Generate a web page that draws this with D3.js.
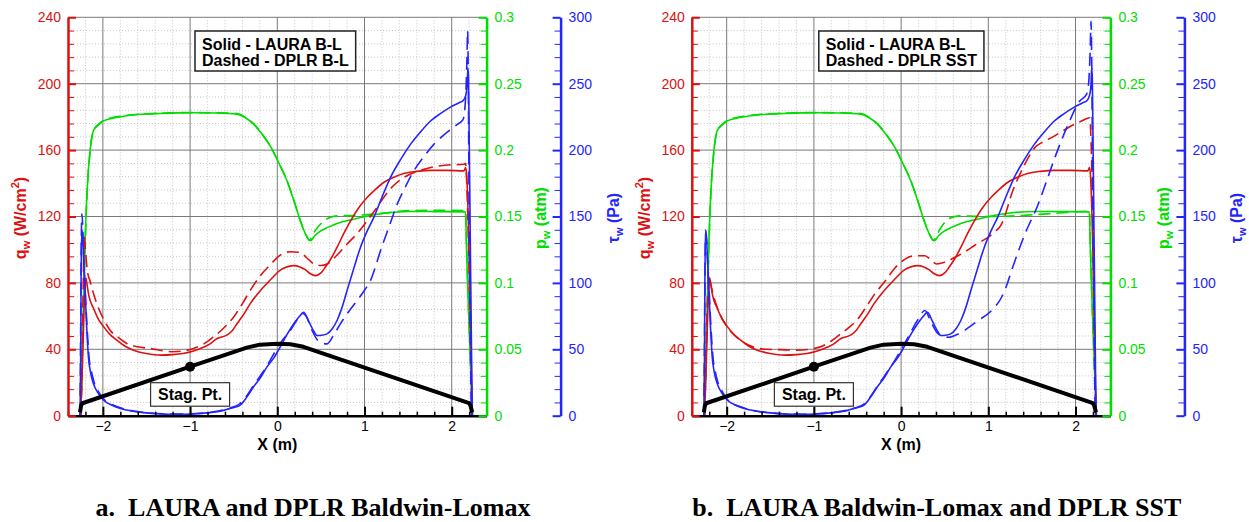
<!DOCTYPE html>
<html>
<head>
<meta charset="utf-8">
<script src="https://cdn.jsdelivr.net/npm/d3@7"></script>
<style>
  body { margin: 0; background: #fff; }
  svg { display: block; font-family: "Liberation Sans", Arial, sans-serif; }
</style>
</head>
<body>
<svg id="chart" width="1249" height="522"></svg>
<script>
// axis ticks
const X_TICKS = [-2, -1, 0, 1, 2]
const Q_TICKS = [0, 40, 80, 120, 160, 200, 240]
const P_TICKS = [0, 0.05, 0.1, 0.15, 0.2, 0.25, 0.3]
const TAU_TICKS = [0, 50, 100, 150, 200, 250, 300]

// heating q_w (W/cm2), [x, q]
const LAURA_Q = [[-2.255, 2], [-2.235, 30], [-2.215, 65], [-2.195, 83], [-2.185, 80], [-2.16, 72], [-2.11, 65], [-2.05, 58], [-1.99, 53.5], [-1.92, 49], [-1.84, 45.5], [-1.75, 42], [-1.65, 39.5], [-1.5, 37.5], [-1.34, 36.5], [-1.2, 36.8], [-1.08, 37.5], [-0.96, 39], [-0.88, 40.5], [-0.78, 43], [-0.69, 46.5], [-0.58, 48.5], [-0.52, 51], [-0.46, 55.5], [-0.38, 61.5], [-0.31, 67.5], [-0.2, 75], [-0.12, 79.6], [-0.04, 84], [0.03, 87.5], [0.12, 89.8], [0.19, 90.4], [0.26, 89.6], [0.32, 88], [0.38, 85.5], [0.44, 84.4], [0.5, 86], [0.55, 89.4], [0.62, 95], [0.685, 101.4], [0.76, 109.5], [0.84, 117.4], [0.93, 125], [1.03, 131.4], [1.12, 136], [1.22, 140.5], [1.33, 143.5], [1.45, 145.9], [1.6, 147.2], [1.76, 147.8], [1.95, 147.8], [2.14, 147.5], [2.16, 149.5], [2.17, 146], [2.235, 0]]
const DPLR_BL_Q = [[-2.25, 0], [-2.24, 30], [-2.225, 80], [-2.215, 108], [-2.2, 100], [-2.18, 88], [-2.147, 81], [-2.07, 67.5], [-1.99, 58], [-1.917, 51.5], [-1.82, 47], [-1.726, 43.5], [-1.6, 41.5], [-1.458, 40.5], [-1.3, 39], [-1.19, 38.5], [-1.08, 39], [-0.96, 40.5], [-0.85, 43], [-0.73, 47.5], [-0.62, 52.5], [-0.5, 59.5], [-0.4, 67.5], [-0.31, 75.5], [-0.2, 84], [-0.08, 91], [0.03, 96.6], [0.15, 98.8], [0.26, 98.4], [0.34, 95], [0.42, 91.4], [0.5, 90.5], [0.57, 91.4], [0.68, 96.5], [0.8, 103.4], [0.92, 110], [1.03, 117.4], [1.13, 124.5], [1.22, 131.4], [1.33, 138.5], [1.45, 143.5], [1.6, 147], [1.76, 149.5], [1.95, 151], [2.14, 151.5], [2.16, 152], [2.172, 140], [2.23, 0]]
const DPLR_SST_Q = [[-2.25, 0], [-2.235, 40], [-2.215, 75], [-2.2, 84], [-2.185, 80], [-2.15, 72], [-2.1, 64], [-2.0, 54], [-1.9, 48], [-1.8, 44], [-1.7, 41.5], [-1.55, 40], [-1.4, 39.8], [-1.2, 39.5], [-1.0, 40.5], [-0.9, 42], [-0.8, 45], [-0.7, 49], [-0.6, 53], [-0.5, 58], [-0.4, 65.5], [-0.3, 73.5], [-0.2, 80], [-0.07, 89], [0.05, 94.5], [0.158, 96.4], [0.273, 96.4], [0.34, 94], [0.407, 91.4], [0.5, 92.5], [0.617, 95.4], [0.71, 98], [0.808, 101.4], [0.9, 104.5], [0.998, 107.4], [1.08, 111], [1.152, 115.4], [1.2, 122], [1.266, 133.4], [1.34, 143], [1.419, 151.5], [1.534, 161.5], [1.63, 165], [1.725, 167.5], [1.82, 170.5], [1.915, 173.5], [2.069, 177.5], [2.164, 179.5], [2.175, 170], [2.23, 0]]

// pressure p_w (atm), [x, p]
const LAURA_P = [[-2.255, 0], [-2.24, 0.03], [-2.225, 0.08], [-2.204, 0.132], [-2.18, 0.17], [-2.147, 0.1996], [-2.109, 0.2146], [-2.05, 0.219], [-1.994, 0.222], [-1.85, 0.2245], [-1.726, 0.2259], [-1.55, 0.227], [-1.343, 0.2276], [-1.15, 0.228], [-0.961, 0.2281], [-0.7, 0.2279], [-0.463, 0.2271], [-0.37, 0.2245], [-0.272, 0.2196], [-0.17, 0.2115], [-0.08, 0.203], [0.034, 0.188], [0.111, 0.1768], [0.19, 0.162], [0.264, 0.1468], [0.33, 0.136], [0.379, 0.1317], [0.43, 0.1355], [0.494, 0.139], [0.585, 0.142], [0.685, 0.1447], [0.876, 0.148], [1.145, 0.1517], [1.527, 0.1538], [1.8, 0.1537], [2.158, 0.1535], [2.168, 0.13], [2.24, 0]]
const DPLR_BL_P = [[-2.255, 0], [-2.24, 0.035], [-2.222, 0.085], [-2.2, 0.135], [-2.178, 0.172], [-2.145, 0.2], [-2.105, 0.2152], [-2.05, 0.2195], [-1.99, 0.2225], [-1.85, 0.225], [-1.72, 0.2263], [-1.55, 0.2272], [-1.34, 0.2278], [-1.15, 0.2282], [-0.96, 0.2282], [-0.7, 0.2281], [-0.46, 0.2276], [-0.37, 0.2248], [-0.27, 0.2198], [-0.17, 0.2117], [-0.08, 0.203], [0.034, 0.1882], [0.111, 0.177], [0.19, 0.1622], [0.264, 0.147], [0.33, 0.136], [0.37, 0.132], [0.42, 0.138], [0.5, 0.1445], [0.6, 0.1492], [0.7, 0.1505], [0.876, 0.1508], [1.145, 0.152], [1.527, 0.1545], [1.8, 0.1547], [2.16, 0.1545], [2.17, 0.13], [2.24, 0]]
const DPLR_SST_P = [[-2.255, 0], [-2.24, 0.035], [-2.222, 0.085], [-2.2, 0.135], [-2.178, 0.172], [-2.145, 0.2], [-2.105, 0.2152], [-2.05, 0.2195], [-1.99, 0.2225], [-1.85, 0.225], [-1.72, 0.2263], [-1.55, 0.2272], [-1.34, 0.2278], [-1.15, 0.2282], [-0.96, 0.2282], [-0.7, 0.2281], [-0.46, 0.2276], [-0.37, 0.2248], [-0.27, 0.2198], [-0.17, 0.2117], [-0.08, 0.203], [0.034, 0.1882], [0.111, 0.177], [0.19, 0.1622], [0.264, 0.147], [0.33, 0.136], [0.37, 0.132], [0.45, 0.141], [0.55, 0.1485], [0.67, 0.1505], [0.9, 0.15], [1.2, 0.1502], [1.55, 0.1515], [1.9, 0.153], [2.16, 0.154], [2.17, 0.13], [2.24, 0]]

// shear tau_w (Pa), [x, tau]
const LAURA_TAU = [[-2.262, 0], [-2.255, 40], [-2.25, 100], [-2.243, 140], [-2.232, 135], [-2.22, 118], [-2.204, 94.4], [-2.185, 66], [-2.166, 44.3], [-2.14, 32], [-2.109, 24.3], [-2.05, 16.5], [-1.994, 11.8], [-1.9, 8], [-1.8, 5.5], [-1.65, 3.4], [-1.535, 2.3], [-1.35, 1.4], [-1.152, 1.0], [-0.95, 1.4], [-0.769, 2.3], [-0.64, 3.6], [-0.54, 5.5], [-0.48, 6.5], [-0.425, 8], [-0.35, 14], [-0.272, 21.8], [-0.19, 29], [-0.118, 36.8], [-0.04, 43.5], [0.034, 51.8], [0.11, 61], [0.187, 69.1], [0.25, 74.5], [0.302, 77.9], [0.36, 71], [0.42, 63.5], [0.456, 60.4], [0.51, 60.6], [0.57, 61.6], [0.63, 65.5], [0.685, 71.7], [0.74, 81], [0.8, 94.2], [0.875, 110.5], [0.953, 126.7], [1.03, 139], [1.106, 149.2], [1.2, 164.5], [1.297, 179.3], [1.41, 192.5], [1.527, 204.3], [1.64, 213.5], [1.757, 221.9], [1.87, 227.5], [1.986, 232.4], [2.08, 235.5], [2.132, 237.4], [2.16, 241], [2.178, 249.4], [2.185, 261.9], [2.192, 255], [2.198, 224], [2.215, 120], [2.235, 0]]
const DPLR_BL_TAU = [[-2.262, 0], [-2.255, 60], [-2.248, 130], [-2.24, 152], [-2.23, 140], [-2.218, 115], [-2.2, 90], [-2.18, 65], [-2.16, 45], [-2.13, 33], [-2.1, 25], [-2.04, 17], [-1.99, 12.5], [-1.8, 6], [-1.55, 2.6], [-1.15, 1.2], [-0.77, 2.6], [-0.54, 6], [-0.43, 9], [-0.35, 15], [-0.27, 23], [-0.19, 30.5], [-0.11, 38.5], [-0.04, 46.6], [0.05, 56], [0.149, 64.1], [0.22, 71.5], [0.29, 77], [0.33, 75], [0.4, 64], [0.46, 57], [0.52, 54.5], [0.57, 54.1], [0.64, 60], [0.723, 69.1], [0.82, 78.5], [0.915, 86.7], [1.0, 94.5], [1.068, 101.7], [1.12, 111], [1.183, 124.2], [1.28, 142], [1.374, 159.2], [1.47, 172.5], [1.565, 184.3], [1.68, 195], [1.795, 204.3], [1.93, 212.5], [2.063, 219.3], [2.13, 223], [2.16, 240], [2.175, 270], [2.182, 290], [2.188, 270], [2.2, 150], [2.225, 0]]
const DPLR_SST_TAU = [[-2.262, 0], [-2.255, 50], [-2.248, 115], [-2.24, 137], [-2.23, 132], [-2.218, 114], [-2.2, 92], [-2.18, 66], [-2.16, 46], [-2.13, 33], [-2.1, 25], [-2.04, 17], [-1.99, 12], [-1.8, 5.8], [-1.55, 2.5], [-1.15, 1.1], [-0.77, 2.5], [-0.54, 5.6], [-0.43, 8.5], [-0.35, 14.5], [-0.27, 22.5], [-0.19, 30], [-0.118, 37], [-0.072, 41.6], [0.0, 50], [0.081, 59.1], [0.18, 71], [0.273, 79.2], [0.34, 71], [0.426, 61.6], [0.54, 59.1], [0.693, 62.9], [0.884, 71.7], [1.037, 79.2], [1.152, 89.2], [1.21, 98], [1.266, 109.2], [1.34, 123], [1.419, 136.7], [1.572, 159.2], [1.67, 177], [1.763, 194.3], [1.84, 207.5], [1.915, 219.3], [2.049, 236.9], [2.126, 241.9], [2.15, 250], [2.168, 275], [2.178, 297], [2.185, 270], [2.2, 150], [2.225, 0]]

// body profile (black, on the q axis) and stagnation point
const BODY = [[-2.262, 2], [-2.25, 6], [-2.235, 7.5], [-1.0, 29.5], [-0.35, 41], [-0.2, 42.8], [0.0, 43.3], [0.15, 43], [0.3, 41.5], [2.2, 7.6], [2.215, 6], [2.235, 2]]
const STAG_PT = [-1, 29.5]

const RED = '#dd1111'
const GREEN = '#00dd00'
const BLUE = '#2424ff'

const PANELS = [
  {ox: 68, legend: ['Solid - LAURA B-L', 'Dashed - DPLR B-L'], caption: 'a.  LAURA and DPLR Baldwin-Lomax',
    q: DPLR_BL_Q, p: DPLR_BL_P, tau: DPLR_BL_TAU},
  {ox: 691.8, legend: ['Solid - LAURA B-L', 'Dashed - DPLR SST'], caption: 'b.  LAURA Baldwin-Lomax and DPLR SST',
    q: DPLR_SST_Q, p: DPLR_SST_P, tau: DPLR_SST_TAU}
]

const W = 418.6
const TOP = 17.3
const BOTTOM = 415.7

const svg = d3.select('#chart')

const minorOf = (lo, hi, step, majors) =>
  d3.range(lo, hi + step / 2, step).map(v => +v.toFixed(4)).filter(v => !majors.some(m => Math.abs(m - v) < 1e-6))

const drawPanel = (cfg, i) => {
  const g = svg.append('g')
  const x = d3.scaleLinear().domain([-2.4, 2.4]).range([cfg.ox, cfg.ox + W])
  const yQ = d3.scaleLinear().domain([0, 240]).range([BOTTOM, TOP])
  const yP = d3.scaleLinear().domain([0, 0.3]).range([BOTTOM, TOP])
  const yT = d3.scaleLinear().domain([0, 300]).range([BOTTOM, TOP])
  const right = cfg.ox + W
  const blueX = right + 74

  const xMinor = minorOf(-2.4, 2.4, 0.2, X_TICKS)
  const qMinor = minorOf(0, 240, 8, Q_TICKS)

  // grid
  const grid = g.append('g')
  grid.selectAll('.vmin').data(xMinor).join('line')
    .attr('x1', d => x(d)).attr('x2', d => x(d)).attr('y1', TOP).attr('y2', BOTTOM)
    .attr('stroke', '#b8b8b8').attr('stroke-width', 0.8).attr('stroke-dasharray', '1,2')
  grid.selectAll('.hmin').data(qMinor).join('line')
    .attr('x1', cfg.ox).attr('x2', right).attr('y1', d => yQ(d)).attr('y2', d => yQ(d))
    .attr('stroke', '#b8b8b8').attr('stroke-width', 0.8).attr('stroke-dasharray', '1,2')
  grid.selectAll('.vmaj').data(X_TICKS).join('line')
    .attr('x1', d => x(d)).attr('x2', d => x(d)).attr('y1', TOP).attr('y2', BOTTOM)
    .attr('stroke', '#7a7a7a').attr('stroke-width', 1)
  grid.selectAll('.hmaj').data(Q_TICKS.slice(1)).join('line')
    .attr('x1', cfg.ox).attr('x2', right).attr('y1', d => yQ(d)).attr('y2', d => yQ(d))
    .attr('stroke', '#7a7a7a').attr('stroke-width', 1)

  // curves
  const clipId = `clip-${i}`
  svg.append('clipPath').attr('id', clipId).append('rect')
    .attr('x', cfg.ox).attr('y', TOP - 2).attr('width', W).attr('height', BOTTOM - TOP + 2)
  const curves = g.append('g').attr('clip-path', `url(#${clipId})`)
  const line = y => d3.line().x(d => x(d[0])).y(d => y(d[1])).curve(d3.curveMonotoneX)

  const series = [
    {data: LAURA_P, y: yP, color: GREEN, dash: null},
    {data: cfg.p, y: yP, color: GREEN, dash: '12,6'},
    {data: LAURA_Q, y: yQ, color: RED, dash: null},
    {data: cfg.q, y: yQ, color: RED, dash: '12,6'},
    {data: LAURA_TAU, y: yT, color: BLUE, dash: null},
    {data: cfg.tau, y: yT, color: BLUE, dash: '13,7'}
  ]
  series.forEach(s => {
    curves.append('path').datum(s.data)
      .attr('d', line(s.y))
      .attr('fill', 'none').attr('stroke', s.color).attr('stroke-width', 1.6)
      .attr('stroke-dasharray', s.dash)
  })
  curves.append('path').datum(BODY)
    .attr('d', d3.line().x(d => x(d[0])).y(d => yQ(d[1])))
    .attr('fill', 'none').attr('stroke', '#000').attr('stroke-width', 4).attr('stroke-linejoin', 'round')
  curves.append('circle').attr('cx', x(STAG_PT[0])).attr('cy', yQ(STAG_PT[1])).attr('r', 5).attr('fill', '#000')

  // axes
  const styleAxis = (sel, color, width) => {
    sel.select('.domain').attr('stroke', color).attr('stroke-width', width)
    sel.selectAll('.tick line').attr('stroke', color).attr('stroke-width', 2)
    sel.selectAll('.tick text').attr('fill', color).attr('font-size', 14)
      .attr('font-family', '"Liberation Sans", Arial, sans-serif')
  }

  // x axis
  g.append('g').attr('transform', `translate(0,${BOTTOM})`)
    .call(d3.axisBottom(x).tickValues(xMinor).tickSizeInner(-4).tickSizeOuter(0).tickFormat(''))
    .call(s => { s.select('.domain').remove(); s.selectAll('.tick line').attr('stroke', '#000').attr('stroke-width', 1.5) })
  g.append('g').attr('transform', `translate(0,${BOTTOM})`)
    .call(d3.axisBottom(x).tickValues(X_TICKS).tickSizeInner(-9).tickSizeOuter(0).tickPadding(5).tickFormat(d3.format('d')))
    .call(s => styleAxis(s, '#000', 2.5))

  // q axis (left)
  g.append('g').attr('transform', `translate(${cfg.ox},0)`)
    .call(d3.axisLeft(yQ).tickValues(qMinor).tickSizeInner(-6).tickSizeOuter(0).tickFormat(''))
    .call(s => { s.select('.domain').remove(); s.selectAll('.tick line').attr('stroke', RED).attr('stroke-width', 1) })
  g.append('g').attr('transform', `translate(${cfg.ox},0)`)
    .call(d3.axisLeft(yQ).tickValues(Q_TICKS).tickSizeInner(-8).tickSizeOuter(0).tickPadding(7))
    .call(s => styleAxis(s, RED, 2.5))

  // p axis (right, green)
  g.append('g').attr('transform', `translate(${right},0)`)
    .call(d3.axisRight(yP).tickValues(d3.range(1, 30).filter(v => v % 5).map(v => v / 100)).tickSizeInner(-6).tickSizeOuter(0).tickFormat(''))
    .call(s => { s.select('.domain').remove(); s.selectAll('.tick line').attr('stroke', GREEN).attr('stroke-width', 1) })
  g.append('g').attr('transform', `translate(${right},0)`)
    .call(d3.axisRight(yP).tickValues(P_TICKS).tickSizeInner(-8).tickSizeOuter(0).tickPadding(8).tickFormat(d => String(d)))
    .call(s => styleAxis(s, GREEN, 2.5))

  // tau axis (far right, blue)
  g.append('g').attr('transform', `translate(${blueX},0)`)
    .call(d3.axisRight(yT).tickValues(minorOf(0, 300, 10, TAU_TICKS)).tickSizeInner(-6).tickSizeOuter(0).tickFormat(''))
    .call(s => { s.select('.domain').remove(); s.selectAll('.tick line').attr('stroke', BLUE).attr('stroke-width', 1) })
  g.append('g').attr('transform', `translate(${blueX},0)`)
    .call(d3.axisRight(yT).tickValues(TAU_TICKS).tickSizeInner(-8).tickSizeOuter(0).tickPadding(8))
    .call(s => styleAxis(s, BLUE, 2.5))

  // axis titles
  const bold = sel => sel.attr('font-weight', 'bold').attr('font-size', 16)
  const sub = (t, txt) => t.append('tspan').attr('font-size', 11).attr('dy', 4).text(txt)

  const tq = g.append('text').attr('transform', `translate(${cfg.ox - 42},218) rotate(-90)`)
    .attr('text-anchor', 'middle').attr('fill', RED).call(bold)
  tq.append('tspan').text('q')
  sub(tq, 'w')
  tq.append('tspan').attr('dy', -4).text(' (W/cm')
  tq.append('tspan').attr('font-size', 11).attr('dy', -7).text('2')
  tq.append('tspan').attr('dy', 7).text(')')

  const tp = g.append('text').attr('transform', `translate(${right + 59},218) rotate(-90)`)
    .attr('text-anchor', 'middle').attr('fill', GREEN).call(bold)
  tp.append('tspan').text('p')
  sub(tp, 'w')
  tp.append('tspan').attr('dy', -4).text(' (atm)')

  const tt = g.append('text').attr('transform', `translate(${blueX + 58},218) rotate(-90)`)
    .attr('text-anchor', 'middle').attr('fill', BLUE).call(bold)
  tt.append('tspan').text('τ')
  sub(tt, 'w')
  tt.append('tspan').attr('dy', -4).text(' (Pa)')

  g.append('text').attr('x', x(0)).attr('y', 450).attr('text-anchor', 'middle').call(bold).text('X (m)')

  // legend box
  const lg = g.append('g')
  const lbox = lg.append('rect').attr('fill', '#fff').attr('stroke', '#222').attr('stroke-width', 1.5)
  const texts = cfg.legend.map((t, k) => lg.append('text').attr('x', cfg.ox + 134).attr('y', 49.5 + k * 16)
    .call(bold).text(t))
  const lw = d3.max(texts, t => t.node().getComputedTextLength())
  lbox.attr('x', cfg.ox + 127).attr('y', 31).attr('width', lw + 14).attr('height', 40)

  // stag point label
  const sg = g.append('g')
  const srect = sg.append('rect').attr('fill', '#fff').attr('stroke', '#333').attr('stroke-width', 1.2)
  const st = sg.append('text').attr('x', x(STAG_PT[0])).attr('y', 400).attr('text-anchor', 'middle').call(bold).text('Stag. Pt.')
  const sw = st.node().getComputedTextLength()
  srect.attr('x', x(STAG_PT[0]) - sw / 2 - 7.5).attr('y', 382.7).attr('width', sw + 15).attr('height', 23.5)

  // caption
  g.append('text').attr('x', cfg.ox + 245).attr('y', 515.5).attr('text-anchor', 'middle')
    .attr('font-family', '"Liberation Serif", "Times New Roman", serif').attr('font-weight', 'bold')
    .attr('font-size', 26).style('white-space', 'pre').text(cfg.caption)
}

PANELS.forEach(drawPanel)
</script>
</body>
</html>
